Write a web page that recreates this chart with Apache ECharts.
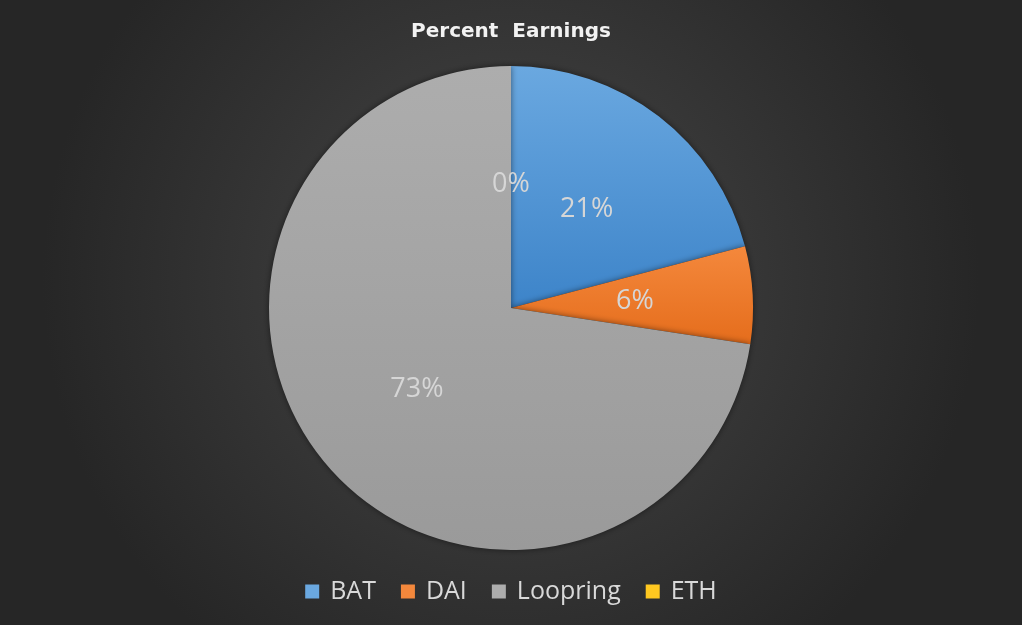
<!DOCTYPE html>
<html>
<head>
<meta charset="utf-8">
<script src="https://cdn.jsdelivr.net/npm/echarts@6/dist/echarts.min.js"></script>
<style>
html,body{margin:0;padding:0;background:#333;}
#main{width:1022px;height:625px;}
</style>
</head>
<body>
<div id="main"></div>
<script>
var names = ['BAT', 'DAI', 'Loopring', 'ETH'];
var values = [20.9, 6.5, 72.6, 0];
var colorsTop = ['#6aa8e0', '#f4883c', '#adadad', '#ffc820'];
var colorsBottom = ['#3d84c9', '#e56d1c', '#9a9a9a', '#f0b400'];

var chart = echarts.init(document.getElementById('main'));

var pieData = [];
for (var i = 0; i < names.length; i++) {
    pieData.push({
        name: names[i],
        value: values[i],
        itemStyle: {
            color: new echarts.graphic.LinearGradient(0, 0, 0, 1, [
                {offset: 0, color: colorsTop[i]},
                {offset: 1, color: colorsBottom[i]}
            ])
        }
    });
}

var option = {
    backgroundColor: {
        type: 'radial', x: 0.5, y: 0.45, r: 0.75,
        colorStops: [
            {offset: 0, color: '#474747'},
            {offset: 1, color: '#262626'}
        ]
    },
    title: {
        text: 'Percent  Earnings',
        left: 'center',
        top: 17,
        textStyle: {
            color: '#f2f2f2',
            fontFamily: 'DejaVu Sans',
            fontWeight: 'bold',
            fontSize: 20
        }
    },
    legend: {
        bottom: 16,
        left: 'center',
        itemWidth: 14,
        itemHeight: 14,
        itemGap: 25,
        icon: 'rect',
        data: names.map(function (n, i) {
            return {name: n, itemStyle: {color: colorsTop[i]}};
        }),
        textStyle: {
            color: '#d9d9d9',
            fontFamily: 'Open Sans',
            fontSize: 25,
            padding: [0, 0, 0, 6]
        }
    },
    series: [{
        type: 'pie',
        center: [511, 308],
        radius: [0, 242],
        startAngle: 90,
        clockwise: true,
        silent: true,
        percentPrecision: 0,
        stillShowZeroSum: true,
        data: pieData,
        itemStyle: {
            shadowBlur: 6,
            shadowColor: 'rgba(0,0,0,0.5)',
            borderWidth: 0
        },
        label: {
            show: true,
            position: 'inside',
            formatter: '{d}%',
            color: '#d6d6d6',
            fontFamily: 'Open Sans',
            fontSize: 27
        },
        labelLine: {show: false}
    }]
};
chart.setOption(option);
</script>
</body>
</html>
